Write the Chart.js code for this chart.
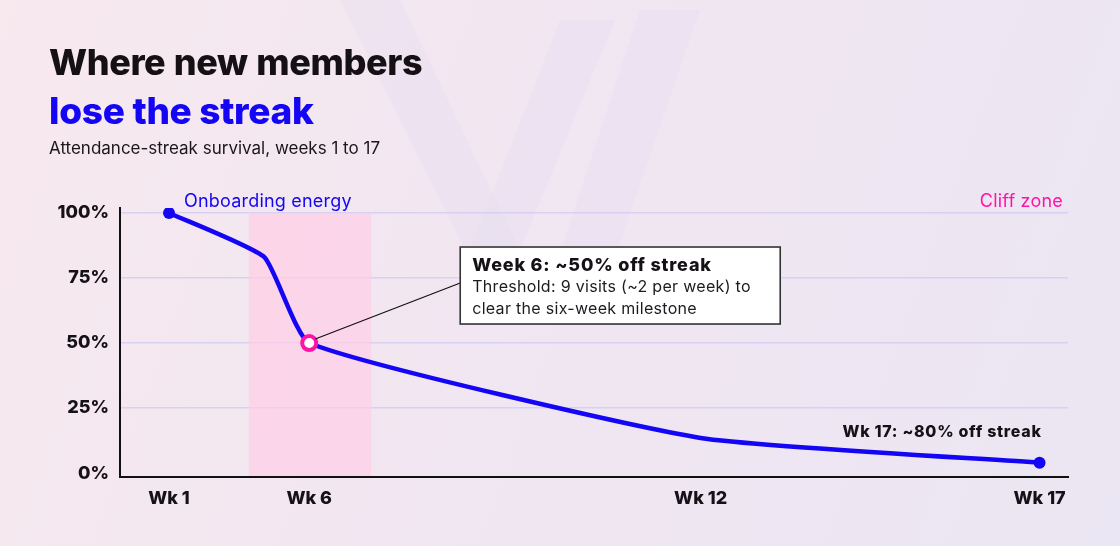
<!DOCTYPE html>
<html>
<head>
<meta charset="utf-8">
<script src="https://cdn.jsdelivr.net/npm/chart.js@4.4.1/dist/chart.umd.min.js"></script>
<style>
  html, body { margin: 0; padding: 0; }
  body {
    width: 1120px; height: 546px; overflow: hidden; position: relative;
    background: linear-gradient(110deg, #f7e9ee 0%, #f1e6f1 45%, #ebe6f3 100%);
    font-family: Inter, "Noto Sans", sans-serif;
  }
  #wrap { position: absolute; left: 0; top: 0; width: 1120px; height: 546px; }
  .t { position: absolute; left: 49px; white-space: nowrap; margin: 0; }
  #t1 { top: 43px; font-size: 36px; line-height: 38px; font-weight: 800; color: #141014; letter-spacing: -0.4px; word-spacing: 1px; }
  #t2 { top: 92px; font-size: 37px; line-height: 38px; font-weight: 800; color: #1405f5; letter-spacing: -0.3px; }
  #sub { top: 140px; font-size: 17px; line-height: 17px; color: #1b161c; }
</style>
</head>
<body>
<div id="wrap"><canvas id="chart" width="1120" height="546"></canvas></div>
<h1 class="t" id="t1">Where new members</h1>
<h1 class="t" id="t2">lose the streak</h1>
<p class="t" id="sub">Attendance-streak survival, weeks 1 to 17</p>
<script>
// survival curve
const weeks = [1, 4.4, 6, 12, 17];
const survival = [100, 83, 50, 13.5, 4];
const weekTicks = [1, 6, 12, 17];
const pctTicks = [0, 25, 50, 75, 100];
const cliffBand = [3.85, 6.95];

const BLUE = "#1405f5";
const PINK = "#ff14a8";
const INK = "#151117";

// the x axis is not evenly spaced in the original: piecewise stops (share of plot width)
const STOP_FRAC = [0.0517, 0.1996, 0.6125, 0.970];

function weekToDecimal(w) {
  let i = 0;
  if (w > weekTicks[weekTicks.length - 1]) i = weekTicks.length - 2;
  else while (i < weekTicks.length - 2 && w > weekTicks[i + 1]) i++;
  const t = (w - weekTicks[i]) / (weekTicks[i + 1] - weekTicks[i]);
  return STOP_FRAC[i] + t * (STOP_FRAC[i + 1] - STOP_FRAC[i]);
}

function decimalToWeek(d) {
  let i = 0;
  if (d > STOP_FRAC[STOP_FRAC.length - 1]) i = STOP_FRAC.length - 2;
  else while (i < STOP_FRAC.length - 2 && d > STOP_FRAC[i + 1]) i++;
  const t = (d - STOP_FRAC[i]) / (STOP_FRAC[i + 1] - STOP_FRAC[i]);
  return weekTicks[i] + t * (weekTicks[i + 1] - weekTicks[i]);
}

class WeekScale extends Chart.LinearScale {
  getPixelForValue(value) {
    return this.getPixelForDecimal(weekToDecimal(value));
  }
  getValueForPixel(pixel) {
    return decimalToWeek(this.getDecimalForPixel(pixel));
  }
}
WeekScale.id = "week";
WeekScale.defaults = Chart.LinearScale.defaults;
Chart.register(WeekScale);

const watermark = {
  id: "watermark",
  beforeDraw(chart) {
    const { ctx } = chart;
    ctx.save();
    ctx.fillStyle = "rgba(190, 180, 235, 0.07)";
    const shapes = [
      [[340, 0], [400, 0], [520, 250], [470, 260]],
      [[560, 20], [615, 20], [520, 250], [470, 250]],
      [[640, 10], [700, 10], [600, 300], [545, 300]],
    ];
    shapes.forEach((pts) => {
      ctx.beginPath();
      pts.forEach(([x, y], i) => (i ? ctx.lineTo(x, y) : ctx.moveTo(x, y)));
      ctx.closePath();
      ctx.fill();
    });
    ctx.restore();
  },
};

const cliffZone = {
  id: "cliffZone",
  beforeDatasetsDraw(chart) {
    const { ctx, chartArea } = chart;
    const x = chart.scales.x;
    const y = chart.scales.y;
    const left = x.getPixelForValue(cliffBand[0]);
    const right = x.getPixelForValue(cliffBand[1]);
    const top = y.getPixelForValue(100);
    ctx.save();
    ctx.fillStyle = "rgba(255, 205, 230, 0.7)";
    ctx.fillRect(left, top, right - left, chartArea.bottom - top - 1);
    ctx.restore();
  },
};

const notes = {
  id: "notes",
  afterDatasetsDraw(chart) {
    const { ctx, chartArea } = chart;
    const meta = chart.getDatasetMeta(0).data;
    const first = meta[0];
    const wk6 = meta[2];
    const last = meta[meta.length - 1];
    ctx.save();

    ctx.textBaseline = "middle";
    ctx.font = "18px Inter";
    ctx.letterSpacing = "0.2px";
    ctx.fillStyle = BLUE;
    ctx.textAlign = "left";
    ctx.fillText("Onboarding energy", first.x + 15, first.y - 11);

    ctx.fillStyle = PINK;
    ctx.textAlign = "right";
    ctx.fillText("Cliff zone", chartArea.right - 5, first.y - 11);

    ctx.fillStyle = INK;
    ctx.font = "800 16px Inter";
    ctx.letterSpacing = "0.7px";
    ctx.fillText("Wk 17: ~80% off streak", last.x + 2, last.y - 31);

    // callout box for week 6
    const bx = wk6.x + 151;
    const by = wk6.y - 96;
    const bw = 320;
    const bh = 77;
    ctx.strokeStyle = "#111";
    ctx.lineWidth = 1.2;
    ctx.beginPath();
    ctx.moveTo(wk6.x + 6, wk6.y - 4);
    ctx.lineTo(bx, by + 36);
    ctx.stroke();

    ctx.fillStyle = "#ffffff";
    ctx.fillRect(bx, by, bw, bh);
    ctx.strokeStyle = "#333";
    ctx.lineWidth = 1.6;
    ctx.strokeRect(bx, by, bw, bh);

    ctx.textAlign = "left";
    ctx.fillStyle = INK;
    ctx.font = "800 18px Inter";
    ctx.letterSpacing = "0.8px";
    ctx.fillText("Week 6: ~50% off streak", bx + 12, by + 19);
    ctx.font = "16px Inter";
    ctx.letterSpacing = "0.3px";
    ctx.fillStyle = "#1d1a20";
    ctx.fillText("Threshold: 9 visits (~2 per week) to", bx + 12, by + 40);
    ctx.fillText("clear the six-week milestone", bx + 12, by + 62);
    ctx.restore();
  },
};

new Chart(document.getElementById("chart"), {
  type: "line",
  data: {
    datasets: [
      {
        data: weeks.map((w, i) => ({ x: w, y: survival[i] })),
        borderColor: BLUE,
        borderWidth: 4.5,
        tension: 0.15,
        pointRadius: [6, 0, 7, 0, 6],
        pointBorderWidth: [0, 0, 4, 0, 0],
        pointBackgroundColor: [BLUE, BLUE, "#ffffff", BLUE, BLUE],
        pointBorderColor: [BLUE, BLUE, PINK, BLUE, BLUE],
        pointHoverRadius: 0,
      },
    ],
  },
  options: {
    responsive: false,
    animation: false,
    events: [],
    layout: { padding: { left: 56, top: 208, right: 52, bottom: 29 } },
    plugins: { legend: { display: false }, tooltip: { enabled: false } },
    scales: {
      x: {
        type: "week",
        min: 0,
        max: 18,
        afterBuildTicks: (scale) => {
          scale.ticks = weekTicks.map((v) => ({ value: v }));
        },
        afterFit: (scale) => {
          scale.height = 40;
        },
        grid: { display: true, color: "rgba(0,0,0,0)", drawTicks: false },
        border: { display: true, color: "#111", width: 2 },
        ticks: {
          padding: 11,
          autoSkip: false,
          maxRotation: 0,
          color: INK,
          font: { family: "Inter", size: 18, weight: "800" },
          callback: (v) => "Wk " + v,
        },
      },
      y: {
        min: -1.5,
        max: 101.9,
        afterBuildTicks: (scale) => {
          scale.ticks = pctTicks.map((v) => ({ value: v }));
        },
        afterFit: (scale) => {
          scale.width = 64;
        },
        grid: {
          color: (c) => (c.tick && c.tick.value === 0 ? "rgba(0,0,0,0)" : "#d6d1f4"),
          lineWidth: 1.5,
          drawTicks: false,
        },
        border: { display: true, color: "#111", width: 2 },
        ticks: {
          padding: 11,
          color: INK,
          font: { family: "Inter", size: 18, weight: "800" },
          callback: (v) => v + "%",
        },
      },
    },
  },
  plugins: [watermark, cliffZone, notes],
});
</script>
</body>
</html>
